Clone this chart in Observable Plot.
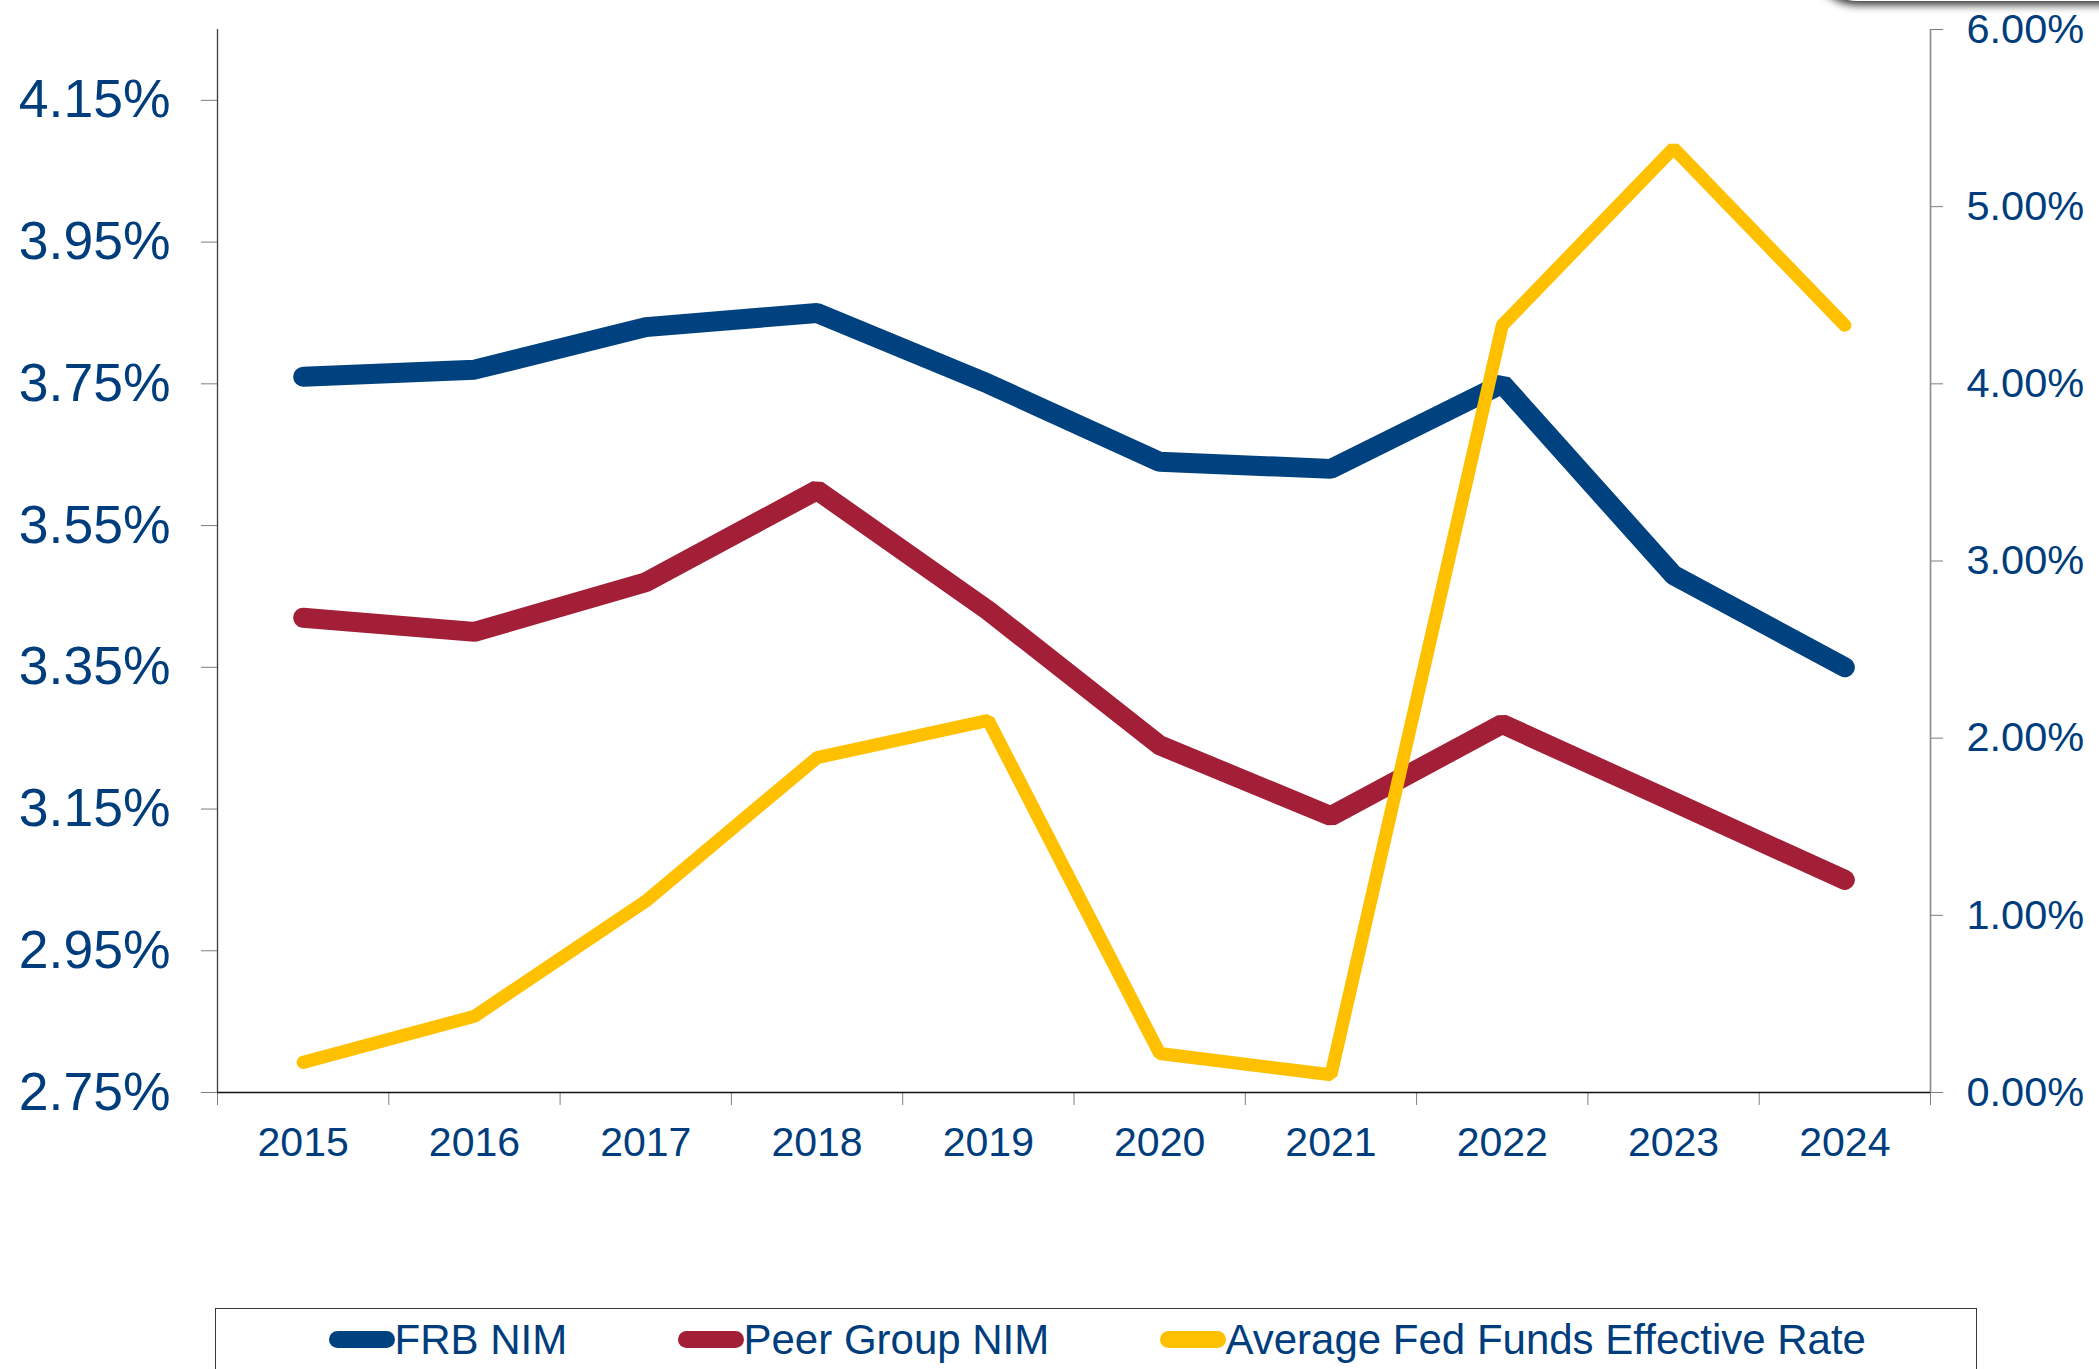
<!DOCTYPE html>
<html>
<head>
<meta charset="utf-8">
<script src="https://cdn.jsdelivr.net/npm/d3@7"></script>
<script src="https://cdn.jsdelivr.net/npm/@observablehq/plot@0.6"></script>
<style>
  html, body { margin: 0; padding: 0; background: #fff; width: 2099px; height: 1369px; overflow: hidden; }
  #chart { position: absolute; left: 0; top: 0; }
  #shade { position: absolute; left: 1812px; top: -60px; width: 340px; height: 61px; background: #fff;
           border-radius: 0 0 0 45px; box-shadow: 0 4px 8px rgba(0,0,0,0.8); }
  #legend { position: absolute; left: 215px; top: 1308px; width: 1762px; height: 120px;
            border: 1.5px solid #3a3a3a; box-sizing: border-box; background: #fff;
            font-family: "Liberation Sans", Arial, sans-serif; font-size: 42px; color: #003D7D; }
  .item { position: absolute; top: 9.5px; height: 42px; display: flex; align-items: center; white-space: nowrap; }
  .sw { display: inline-block; width: 66px; height: 17px; border-radius: 9px; }
</style>
</head>
<body>
<div id="chart"></div>
<div id="shade"></div>
<div id="legend"></div>
<script>
// ---- data ----
const years = [2015, 2016, 2017, 2018, 2019, 2020, 2021, 2022, 2023, 2024];
const frbNim = [3.76, 3.77, 3.83, 3.85, 3.75, 3.64, 3.63, 3.75, 3.48, 3.35];
const peerNim = [3.42, 3.40, 3.47, 3.60, 3.43, 3.24, 3.14, 3.27, 3.16, 3.05];
const fedFunds = [0.17, 0.43, 1.08, 1.89, 2.10, 0.22, 0.10, 4.33, 5.33, 4.33];
const leftTicks = [2.75, 2.95, 3.15, 3.35, 3.55, 3.75, 3.95, 4.15];
const rightTicks = [0, 1, 2, 3, 4, 5, 6];
const seriesNames = ["FRB NIM", "Peer Group NIM", "Average Fed Funds Effective Rate"];
const seriesColors = ["#00427F", "#A31F37", "#FFC000"];

// ---- scales ----
const leftMin = 2.75, leftMax = 4.25, rightMax = 6;
const toLeft = v => leftMin + v * (leftMax - leftMin) / rightMax;
const fromLeft = d => (d - leftMin) * rightMax / (leftMax - leftMin);

const rows = years.map((year, i) => ({year, frb: frbNim[i], peer: peerNim[i], fed: fedFunds[i]}));
const bounds = d3.range(years.length + 1).map(i => years[0] - 0.5 + i);

const textColor = "#003D7D";
const tickColor = "#7f7f7f";

const chart = Plot.plot({
  width: 2099,
  height: 1200,
  marginLeft: 217,
  marginRight: 169,
  marginTop: 29,
  marginBottom: 108,
  x: {domain: [bounds[0], bounds[bounds.length - 1]]},
  y: {domain: [leftMin, leftMax]},
  style: {fontFamily: "'Liberation Sans', Arial, sans-serif", background: "white", overflow: "visible"},
  marks: [
    Plot.ruleX([bounds[0]], {stroke: "#3c3c3c", strokeWidth: 1.3}),
    Plot.ruleX([bounds[bounds.length - 1]], {stroke: "#8a8a8a", strokeWidth: 1.6}),
    Plot.axisY(leftTicks, {
      anchor: "left", tickSize: 16, tickPadding: 31, fontSize: 53.5,
      stroke: tickColor, fill: textColor, label: null,
      tickFormat: d => d.toFixed(2) + "%"
    }),
    Plot.axisY(rightTicks.map(toLeft), {
      anchor: "right", tickSize: 12, tickPadding: 24, fontSize: 41.5,
      stroke: tickColor, fill: textColor, label: null,
      tickFormat: d => fromLeft(d).toFixed(2) + "%"
    }),
    Plot.axisX(bounds, {tickSize: 13, stroke: tickColor, tickFormat: () => "", label: null}),
    Plot.axisX(years, {
      tickSize: 0, tickPadding: 34, fontSize: 41, fill: textColor, label: null,
      tickFormat: d => String(d)
    }),
    Plot.ruleY([leftMin], {stroke: "#111", strokeWidth: 1.6}),
    Plot.lineY(rows, {x: "year", y: "frb", stroke: seriesColors[0], strokeWidth: 20,
      strokeLinecap: "round", strokeLinejoin: "miter"}),
    Plot.lineY(rows, {x: "year", y: "peer", stroke: seriesColors[1], strokeWidth: 20,
      strokeLinecap: "round", strokeLinejoin: "miter"}),
    Plot.lineY(rows, {x: "year", y: d => toLeft(d.fed), stroke: seriesColors[2], strokeWidth: 13,
      strokeLinecap: "round", strokeLinejoin: "miter"})
  ]
});
document.getElementById("chart").appendChild(chart);

// ---- legend ----
const legendLefts = [112.5, 461.5, 943.5];
const legend = document.getElementById("legend");
seriesNames.forEach((name, i) => {
  const item = document.createElement("div");
  item.className = "item";
  item.style.left = legendLefts[i] + "px";
  const sw = document.createElement("span");
  sw.className = "sw";
  sw.style.background = seriesColors[i];
  const label = document.createElement("span");
  label.textContent = name;
  item.appendChild(sw);
  item.appendChild(label);
  legend.appendChild(item);
});
</script>
</body>
</html>
